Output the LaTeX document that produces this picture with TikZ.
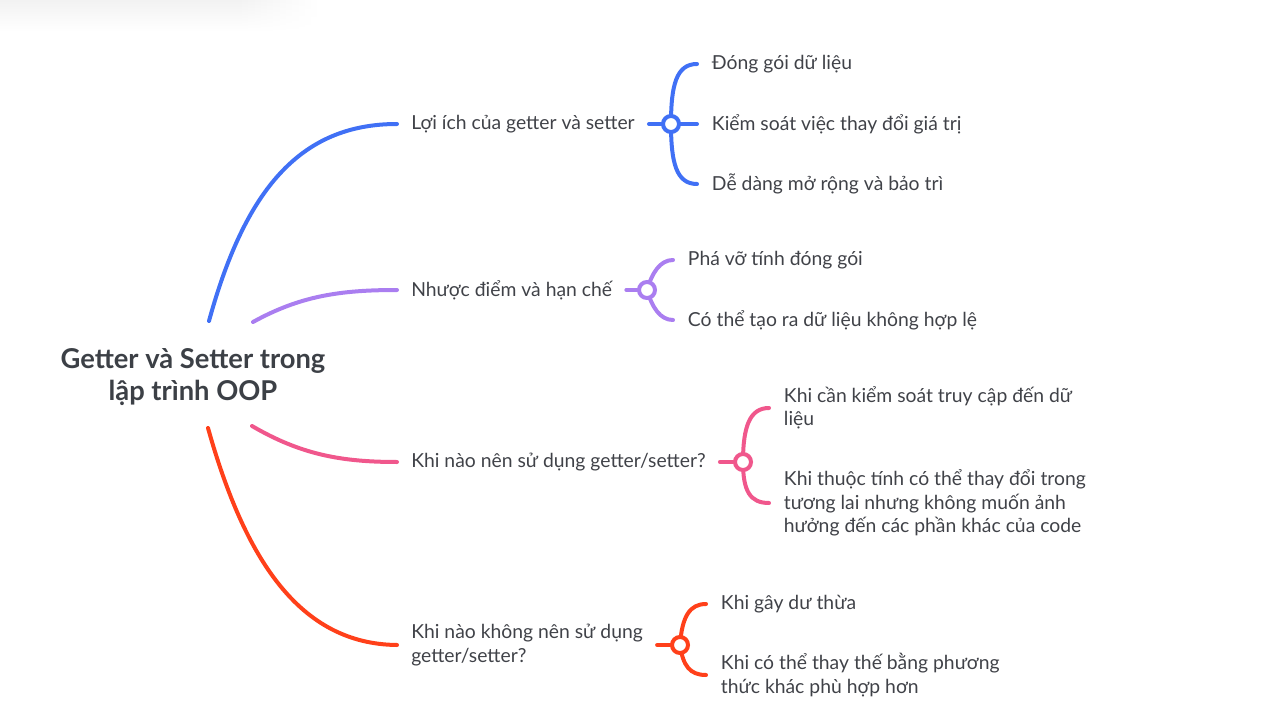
\documentclass[tikz,border=0pt]{standalone}
\usepackage{fontspec}
\setmainfont{Lato}
\usetikzlibrary{positioning, backgrounds, fadings}
\definecolor{textgray}{RGB}{64,66,72}
\definecolor{titlegray}{RGB}{60,64,70}
\definecolor{benefitblue}{RGB}{64,112,245}
\definecolor{conspurple}{RGB}{170,126,240}
\definecolor{whenpink}{RGB}{240,87,140}
\definecolor{whennotred}{RGB}{255,64,26}

\begin{document}
\begin{tikzpicture}[
    x=0.75pt, y=-0.75pt,
    font=\fontsize{14.5}{17.6}\selectfont,
    every node/.style={text=textgray},
    topic/.style={anchor=west, inner xsep=10.5pt, inner ysep=0pt, align=left},
    leaf/.style={anchor=west, inner xsep=11pt, inner ysep=0pt, align=left},
    hub/.style={circle, draw=#1, line width=3pt, fill=white, minimum size=12pt, inner sep=0pt},
    branch/.style={draw=#1, line width=3pt, line cap=round}
]
    \useasboundingbox (0,0) rectangle (1284,720);

    % Root
    \node[font=\fontsize{20.5}{24}\selectfont\bfseries, align=center, text=titlegray] (root) at (193,377) {Getter và Setter trong\\lập trình OOP};
    \coordinate (r1) at (209,321);
    \coordinate (r2) at (253,322);
    \coordinate (r3) at (252,426);
    \coordinate (r4) at (208,428);

    % Topics
    \node[topic] (benefit) at (397,124) {Lợi ích của getter và setter};
    \node[topic] (cons) at (397,290) {Nhược điểm và hạn chế};
    \node[topic] (when) at (397,462) {Khi nào nên sử dụng getter/setter?};
    \node[topic] (whennot) at (397,645) {Khi nào không nên sử dụng\\getter/setter?};

    % Hubs
    \node[hub=benefitblue] (hb) at (671,124) {};
    \node[hub=conspurple] (hc) at (647,290) {};
    \node[hub=whenpink] (hw) at (743,462) {};
    \node[hub=whennotred] (hn) at (680,645) {};

    % Leaves
    \node[leaf] (b1) at (697,64) {Đóng gói dữ liệu};
    \node[leaf] (b2) at (697,124) {Kiểm soát việc thay đổi giá trị};
    \node[leaf] (b3) at (697,184) {Dễ dàng mở rộng và bảo trì};
    \node[leaf] (c1) at (673,260) {Phá vỡ tính đóng gói};
    \node[leaf] (c2) at (673,320) {Có thể tạo ra dữ liệu không hợp lệ};
    \node[leaf] (w1) at (769,408) {Khi cần kiểm soát truy cập đến dữ\\liệu};
    \node[leaf] (w2) at (769,503) {Khi thuộc tính có thể thay đổi trong\\tương lai nhưng không muốn ảnh\\hưởng đến các phần khác của code};
    \node[leaf] (n1) at (706,604) {Khi gây dư thừa};
    \node[leaf] (n2) at (706,675) {Khi có thể thay thế bằng phương\\thức khác phù hợp hơn};

    \begin{scope}[on background layer]
        % Shadow
        \fill[black!5, path fading=south] (0,0) rectangle (240,32);
        \shade[left color=black!5, right color=white, path fading=south] (240,0) rectangle (320,32);

        % Main branches
        \draw[branch=benefitblue] (r1) .. controls (245,190) and (300,124) .. (benefit.west);
        \draw[branch=conspurple] (r2) .. controls (300,296) and (340,290) .. (cons.west);
        \draw[branch=whenpink] (r3) .. controls (300,454) and (340,462) .. (when.west);
        \draw[branch=whennotred] (r4) .. controls (245,560) and (300,644) .. (whennot.west);

        % Sub branches
        \draw[branch=benefitblue] (benefit.east) -- (hb);
        \draw[branch=benefitblue] (hb.center) .. controls (671,86) and (676,64) .. (b1.west);
        \draw[branch=benefitblue] (hb.center) -- (b2.west);
        \draw[branch=benefitblue] (hb.center) .. controls (671,162) and (676,184) .. (b3.west);

        \draw[branch=conspurple] (cons.east) -- (hc);
        \draw[branch=conspurple] (hc.center) .. controls (652,273) and (660,260) .. (c1.west);
        \draw[branch=conspurple] (hc.center) .. controls (652,307) and (660,320) .. (c2.west);

        \draw[branch=whenpink] (when.east) -- (hw);
        \draw[branch=whenpink] (hw.center) .. controls (743,426) and (750,408) .. (w1.west);
        \draw[branch=whenpink] (hw.center) .. controls (743,491) and (750,503) .. (w2.west);

        \draw[branch=whennotred] (whennot.east) -- (hn);
        \draw[branch=whennotred] (hn.center) .. controls (682,616) and (690,604) .. (n1.west);
        \draw[branch=whennotred] (hn.center) .. controls (683,666) and (690,675) .. (n2.west);
    \end{scope}
\end{tikzpicture}
\end{document}
